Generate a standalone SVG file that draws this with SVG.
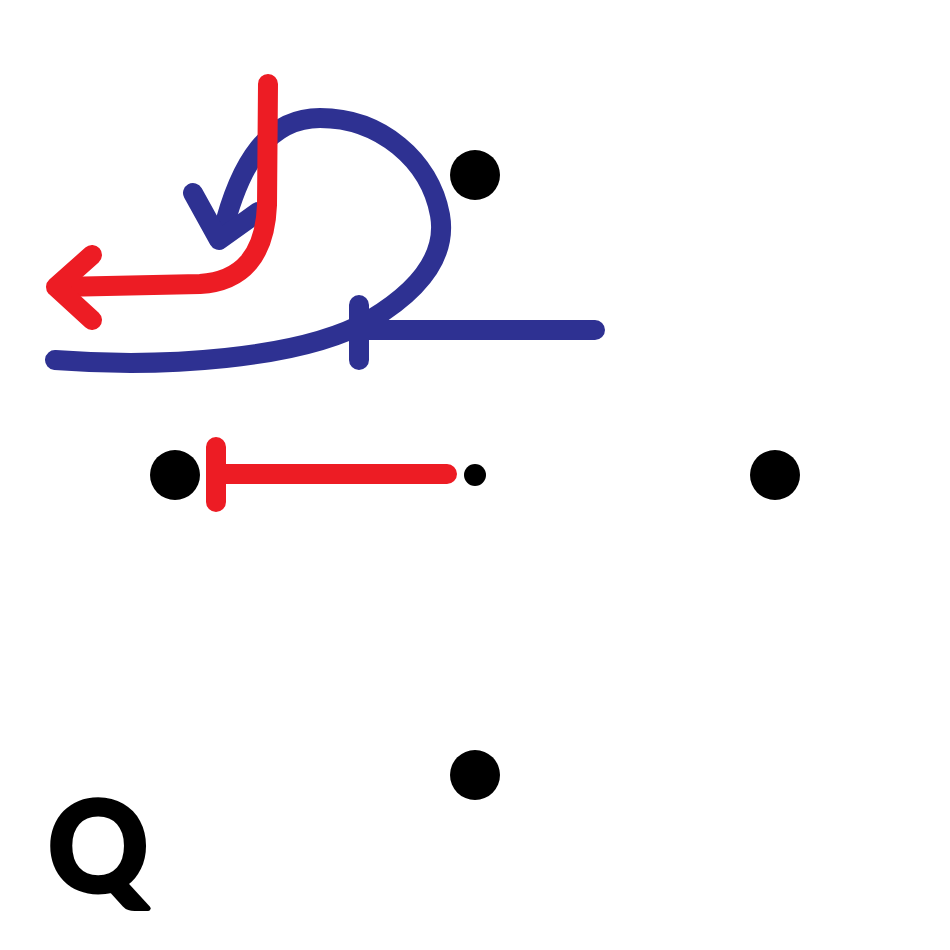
<svg xmlns="http://www.w3.org/2000/svg" width="950" height="950" viewBox="0 0 950 950">
<style>
.blue{fill:none;stroke:#2e3192;stroke-width:20;stroke-linecap:round;stroke-linejoin:round}
.red{fill:none;stroke:#ed1c24;stroke-width:20;stroke-linecap:round;stroke-linejoin:round}
.dot{fill:#000}
.lbl{font-family:Lato,"Liberation Sans",Arial,sans-serif;font-weight:bold;font-size:124px;fill:#000;stroke:#000;stroke-width:5;stroke-linejoin:round}
</style>
<rect width="950" height="950" fill="#fff"/>
<g id="connectors">
<path class="blue" d="M55,360 C160,368 300,360 370,320 C420,290 447,255 440,215 C430,160 380,118 320,118 C270,118 240,160 222,235"/>
<path class="blue" d="M193,193 L219,240 L258,212"/>
<path class="blue" d="M595,330 L360,330 M359,305 L359,360"/>
<path class="red" d="M268,84 L267,205 Q264,280 200,284 L60,287"/>
<path class="red" d="M92,255 L56,287 L92,320"/>
<path class="red" d="M447,474 L216,474 M216,447 L216,502"/>
</g>
<g id="n1"><circle class="dot" cx="475" cy="175" r="25"/></g>
<g id="n2"><circle class="dot" cx="175" cy="475" r="25"/></g>
<g id="n3"><circle class="dot" cx="475" cy="475" r="11"/></g>
<g id="n4"><circle class="dot" cx="775" cy="475" r="25"/></g>
<g id="n5"><circle class="dot" cx="475" cy="775" r="25"/></g>
<text class="lbl" x="48" y="891">Q</text>
</svg>
